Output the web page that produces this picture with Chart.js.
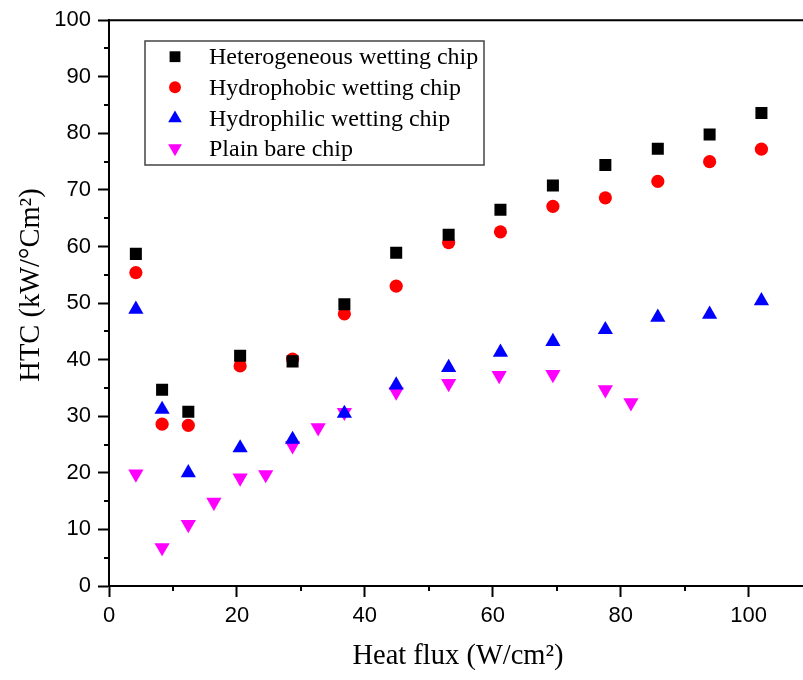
<!DOCTYPE html>
<html>
<head>
<meta charset="utf-8">
<script src="https://cdn.jsdelivr.net/npm/chart.js@4.4.1/dist/chart.umd.min.js"></script>
<style>
  html, body { margin: 0; padding: 0; background: #fff; overflow: hidden; }
  canvas { display: block; }
</style>
</head>
<body>
<canvas id="htcChart" width="803" height="680"></canvas>
<script>
// heat flux values (W/cm2) where each chip was measured
const fluxWetting = [4.2, 8.3, 12.4, 20.5, 28.7, 36.8, 44.9, 53.1, 61.2, 69.4, 77.6, 85.8, 93.9, 102.0];
const fluxPlain = [4.2, 8.3, 12.4, 16.4, 20.5, 24.5, 28.7, 32.7, 36.8, 44.9, 53.1, 61.0, 69.4, 77.6, 81.6];

// HTC values (kW/oCm2)
const htcHetero = [58.7, 34.7, 30.8, 40.7, 39.7, 49.8, 58.9, 62.1, 66.5, 70.8, 74.4, 77.3, 79.8, 83.6];
const htcPhobic = [55.4, 28.6, 28.4, 38.9, 40.1, 48.1, 53.0, 60.7, 62.6, 67.1, 68.6, 71.5, 75.0, 77.2];
const htcPhilic = [48.9, 31.2, 20.0, 24.4, 25.9, 30.5, 35.5, 38.6, 41.3, 43.2, 45.3, 47.5, 48.0, 50.4];
const htcPlain = [19.8, 6.8, 10.9, 14.8, 19.1, 19.7, 24.8, 28.0, 30.7, 34.3, 35.8, 37.2, 37.4, 34.7, 32.4];

const seriesNames = ['Heterogeneous wetting chip', 'Hydrophobic wetting chip', 'Hydrophilic wetting chip', 'Plain bare chip'];
const xTitle = 'Heat flux (W/cm\u00B2)';
const yTitle = 'HTC (kW/\u00B0Cm\u00B2)';

const toPoints = (xs, ys) => xs.map((x, i) => ({ x: x, y: ys[i] }));

const serif = '"Liberation Serif", "Times New Roman", serif';
const sans = '"Liberation Sans", Arial, sans-serif';

// small minor ticks, top frame line and axis titles
const extrasPlugin = {
    id: 'extras',
    afterDraw: (chart) => {
        const { ctx, chartArea, scales } = chart;
        ctx.save();
        ctx.strokeStyle = '#000';
        ctx.lineWidth = 2;
        ctx.beginPath();
        for (let v = 5; v < 100; v += 10) {
            const py = Math.round(scales.y.getPixelForValue(v));
            ctx.moveTo(chartArea.left - 5, py);
            ctx.lineTo(chartArea.left, py);
        }
        for (let v = 10; v < 108; v += 20) {
            const px = Math.round(scales.x.getPixelForValue(v));
            ctx.moveTo(px, chartArea.bottom);
            ctx.lineTo(px, chartArea.bottom + 5);
        }
        // top frame
        ctx.moveTo(chartArea.left, chartArea.top);
        ctx.lineTo(chartArea.right, chartArea.top);
        ctx.stroke();

        // axis titles
        ctx.fillStyle = '#000';
        ctx.font = '28.5px ' + serif;
        ctx.textAlign = 'center';
        ctx.textBaseline = 'alphabetic';
        ctx.fillText(xTitle, 458, 664);
        ctx.translate(39, 285);
        ctx.rotate(-Math.PI / 2);
        ctx.fillText(yTitle, 0, 0);
        ctx.restore();

        // legend box inside the plot
        ctx.save();
        ctx.strokeStyle = '#444';
        ctx.lineWidth = 1.5;
        ctx.strokeRect(145, 41, 339, 124);
        ctx.font = '24px ' + serif;
        ctx.textAlign = 'left';
        ctx.textBaseline = 'middle';
        const rows = [56.7, 87.3, 118.3, 148.3];
        chart.data.datasets.forEach((ds, i) => {
            ctx.fillStyle = ds.backgroundColor;
            Chart.helpers.drawPoint(ctx, {
                pointStyle: ds.pointStyle,
                radius: ds.pointRadius * 0.9,
                rotation: ds.rotation || 0,
                borderWidth: 0
            }, 175, rows[i]);
            ctx.fillStyle = '#000';
            ctx.fillText(ds.label, 209, rows[i] + 1);
        });
        ctx.restore();
    }
};

const ctx1 = document.getElementById('htcChart').getContext('2d');

const htcChart = new Chart(ctx1, {
    type: 'scatter',
    data: {
        datasets: [{
            label: seriesNames[0],
            data: toPoints(fluxWetting, htcHetero),
            pointStyle: 'rect',
            pointRadius: 8.5,
            backgroundColor: '#000000',
            borderWidth: 0
        }, {
            label: seriesNames[1],
            data: toPoints(fluxWetting, htcPhobic),
            pointStyle: 'circle',
            pointRadius: 6.6,
            backgroundColor: '#ff0000',
            borderWidth: 0
        }, {
            label: seriesNames[2],
            data: toPoints(fluxWetting, htcPhilic),
            pointStyle: 'triangle',
            pointRadius: 8.8,
            backgroundColor: '#0000ff',
            borderWidth: 0
        }, {
            label: seriesNames[3],
            data: toPoints(fluxPlain, htcPlain),
            pointStyle: 'triangle',
            rotation: 180,
            pointRadius: 8.8,
            backgroundColor: '#ff00ff',
            borderWidth: 0
        }]
    },
    options: {
        responsive: false,
        animation: false,
        devicePixelRatio: 1,
        layout: {
            autoPadding: false, // no extra room for point radius
            padding: { top: 19, right: 0, left: 0, bottom: 0 }
        },
        plugins: {
            legend: { display: false },
            tooltip: { enabled: false }
        },
        scales: {
            x: {
                type: 'linear',
                min: 0,
                max: 108.5,
                afterFit: (scale) => { scale.height = 94; },
                grid: { drawOnChartArea: false, drawTicks: true, tickLength: 11, tickWidth: 2, tickColor: '#000' },
                border: { color: '#000', width: 2 },
                ticks: {
                    stepSize: 20,
                    includeBounds: false,
                    padding: 6,
                    color: '#000',
                    font: { family: sans, size: 22 }
                }
            },
            y: {
                min: 0,
                max: 100,
                afterFit: (scale) => { scale.width = 109; },
                grid: { drawOnChartArea: false, drawTicks: true, tickLength: 11, tickWidth: 2, tickColor: '#000' },
                border: { color: '#000', width: 2 },
                ticks: {
                    stepSize: 10,
                    padding: 7,
                    color: '#000',
                    font: { family: sans, size: 22 }
                }
            }
        }
    },
    plugins: [extrasPlugin]
});
</script>
</body>
</html>
